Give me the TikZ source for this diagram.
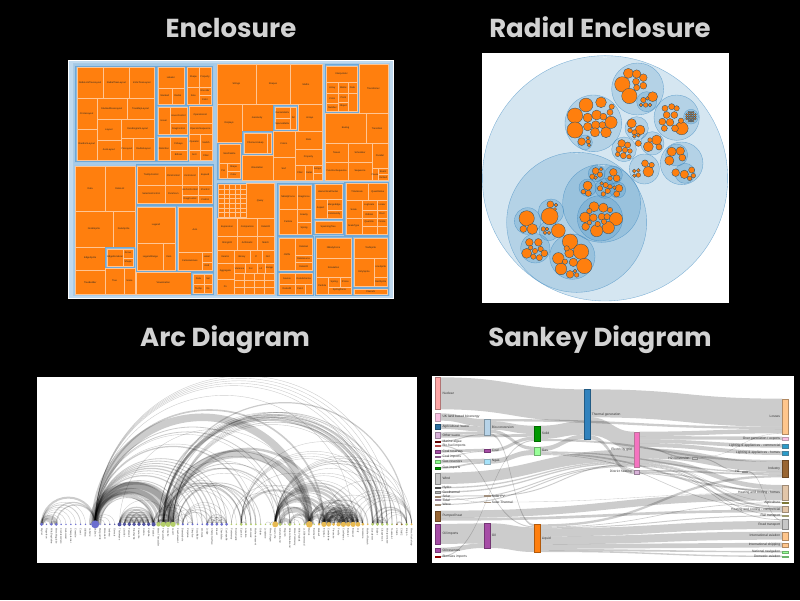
\documentclass[tikz,border=0pt]{standalone}
\usepackage{fontspec}
\setmainfont{Liberation Sans}
\newfontfamily\titlefont{Poppins}
\definecolor{tmbg}{HTML}{BFD9EE}
\definecolor{tmgA}{HTML}{A3C9E7}
\definecolor{tmgB}{HTML}{8ABBE0}
\definecolor{tmline}{HTML}{6FA8D6}
\definecolor{orng}{HTML}{FF7F0E}
\definecolor{cpb}{HTML}{3182BD}
\definecolor{ttl}{HTML}{D2D2D2}
\definecolor{ga}{HTML}{9C9EDE}
\definecolor{gb}{HTML}{6B6ECF}
\definecolor{gc}{HTML}{5254A3}
\definecolor{gd}{HTML}{B5CF6B}
\definecolor{gh}{HTML}{E7BA52}
\definecolor{gj}{HTML}{8C6D31}
\tikzset{
  leaf/.style={fill=orng, draw=white!55!orng, line width=0.3pt},
  grpA/.style={fill=tmgA, draw=tmline!60, line width=0.4pt},
  grpB/.style={fill=tmgB, draw=tmline, line width=0.4pt},
  tml/.style={font=\fontsize{2.4}{3}\selectfont, text=black!85, inner sep=0},
  cgrp/.style={fill=cpb, fill opacity=0.2, draw=cpb, draw opacity=0.6, line width=0.35pt},
  cleaf/.style={fill=orng, draw=cpb!60!black, line width=0.3pt},
  clab/.style={font=\fontsize{2.2}{3}\selectfont, text=white, inner sep=0},
  arcln/.style={draw=black, draw opacity=0.2},
  alab/.style={font=\fontsize{2.4}{3}\selectfont, text=black!75, inner sep=0},
  slink/.style={fill=black, fill opacity=0.2},
  slab/.style={font=\fontsize{3.3}{4}\selectfont, text=black!80, inner sep=0},
  ttlstyle/.style={font=\titlefont\fontsize{26}{30}\selectfont\bfseries, text=ttl, inner sep=0, anchor=base}
}
\newcommand\lf[5]{\draw[leaf] (#1,#2) rectangle (#3,#4); \node[tml] at ({(#1+#3)/2},{(#2+#4)/2}) {#5};}
\newcommand\gpa[4]{\filldraw[grpA] (#1,#2) rectangle (#3,#4);}
\newcommand\gpb[4]{\filldraw[grpB] (#1,#2) rectangle (#3,#4);}
\newcommand\gcir[3]{\filldraw[cgrp] (#1,#2) circle[radius=#3];}
\newcommand\ocir[3]{\filldraw[cleaf] (#1,#2) circle[radius=1.15*#3];}
\newcommand\lnk[6]{\pgfmathsetmacro\lm{(#1+#4)/2}\fill[slink] (#1,#2) .. controls (\lm,#2) and (\lm,#5) .. (#4,#5) -- (#4,#6) .. controls (\lm,#6) and (\lm,#3) .. (#1,#3) -- cycle;}
\newcommand\snr[5]{\colorlet{snc}{#4}\filldraw[fill=snc, draw=snc!70!black, line width=0.3pt] (#1,#2) rectangle ({#1+16},#3); \node[slab, anchor=west] at ({#1+22},{(#2+#3)/2}) {#5};}
\newcommand\snl[5]{\colorlet{snc}{#4}\filldraw[fill=snc, draw=snc!70!black, line width=0.3pt] (#1,#2) rectangle ({#1+16},#3); \node[slab, anchor=east] at ({#1-6},{(#2+#3)/2}) {#5};}
\begin{document}
\begin{tikzpicture}[x=1pt,y=-1pt]
\fill[black] (0,0) rectangle (800,600);
\useasboundingbox (0,0) rectangle (800,600);
% titles
\node[ttlstyle] (t1) at (231,37) {Enclosure};
\node[ttlstyle] (t2) at (600,37) {Radial Enclosure};
\node[ttlstyle] (t3) at (225,346) {Arc Diagram};
\node[ttlstyle] (t4) at (600,346) {Sankey Diagram};
% ================= TREEMAP =================
\begin{scope}[shift={(60,55)},scale=1/3]
\filldraw[fill=tmbg,draw=white,line width=0.8pt] (25,15) rectangle (1000,730);
\gpa{40}{25}{462}{325}
\gpa{40}{328}{462}{722}
\gpa{466}{25}{988}{378}
\gpa{466}{381}{988}{722}
% top-left
\gpb{46}{33}{287}{318}
\lf{50}{37}{130}{130}{NodeLinkTreeLayout}
\lf{130}{37}{208}{130}{RadialTreeLayout}
\lf{208}{37}{283}{130}{IcicleTreeLayout}
\lf{50}{130}{110}{222}{CircleLayout}
\lf{50}{222}{110}{314}{RandomLayout}
\lf{110}{130}{200}{192}{StackedAreaLayout}
\lf{200}{130}{283}{192}{TreeMapLayout}
\lf{110}{192}{183}{255}{Layout}
\lf{183}{192}{283}{250}{DendrogramLayout}
\lf{110}{255}{183}{314}{AxisLayout}
\lf{183}{250}{218}{314}{PieLayout}
\lf{218}{250}{283}{314}{RadialLayout}
\gpb{289}{33}{376}{150}
\lf{293}{37}{372}{100}{Labeler}
\lf{293}{100}{335}{146}{Stacked}
\lf{335}{100}{372}{146}{Radial}
\gpb{378}{33}{456}{150}
\lf{382}{37}{418}{95}{Shape}
\lf{418}{37}{452}{95}{Property}
\lf{382}{95}{418}{146}{Size}
\lf{418}{95}{452}{120}{Encoder}
\lf{418}{120}{452}{146}{Color}
\gpb{289}{152}{385}{240}
\lf{293}{156}{330}{236}{Hover}
\lf{330}{156}{381}{205}{HoverControl}
\lf{330}{205}{381}{236}{DragControl}
\lf{386}{152}{456}{205}{OperatorList}
\lf{386}{205}{456}{238}{OperatorSequence}
\lf{386}{238}{420}{285}{Operator}
\lf{420}{238}{456}{285}{Switch}
\lf{386}{285}{420}{316}{Sort}
\lf{420}{285}{456}{316}{Filter}
\gpb{289}{242}{385}{318}
\lf{293}{246}{330}{314}{Distortion}
\lf{330}{246}{381}{285}{Fisheye}
\lf{330}{285}{381}{314}{Bifocal}
% bottom-left
\lf{46}{332}{135}{468}{Data}
\lf{135}{332}{224}{468}{DataList}
\lf{46}{468}{158}{575}{NodeSprite}
\lf{158}{468}{224}{575}{DataSprite}
\lf{46}{575}{135}{645}{EdgeSprite}
\lf{46}{645}{135}{718}{TreeBuilder}
\lf{135}{638}{192}{718}{Tree}
\lf{192}{638}{224}{718}{Scale}
\gpb{137}{577}{222}{636}
\lf{141}{581}{190}{632}{EdgeRenderer}
\lf{190}{581}{218}{608}{Arrow}
\lf{190}{608}{218}{632}{Shape}
\gpb{228}{329}{460}{449}
\lf{232}{333}{315}{389}{TooltipControl}
\lf{315}{333}{365}{389}{ClickControl}
\lf{365}{333}{415}{389}{ControlList}
\lf{415}{333}{456}{389}{Expand}
\lf{232}{389}{315}{445}{SelectionControl}
\lf{315}{389}{365}{445}{PanZoom}
\lf{365}{389}{415}{420}{AnchorControl}
\lf{415}{389}{456}{420}{IControl}
\lf{365}{420}{415}{445}{DragControl}
\lf{415}{420}{456}{445}{Control}
\gpb{228}{452}{348}{648}
\lf{232}{456}{344}{565}{Legend}
\lf{232}{565}{310}{644}{LegendRange}
\lf{310}{565}{344}{644}{Item}
\gpb{350}{452}{460}{648}
\lf{354}{456}{456}{592}{Axis}
\lf{354}{592}{425}{644}{CartesianAxes}
\lf{425}{592}{456}{620}{Label}
\lf{425}{620}{456}{644}{Grid}
\lf{228}{650}{392}{718}{Visualization}
\gpb{395}{652}{460}{719}
\lf{399}{656}{432}{688}{Data}
\lf{432}{656}{456}{688}{Sel}
\lf{399}{688}{432}{715}{Tooltip}
\lf{432}{688}{456}{715}{Vis}
% top-right
\lf{470}{28}{588}{148}{Strings}
\lf{588}{28}{690}{148}{Shapes}
\lf{690}{28}{786}{148}{Maths}
\lf{470}{148}{545}{262}{Displays}
\lf{545}{148}{638}{228}{Geometry}
\gpb{640}{151}{713}{226}
\lf{644}{155}{690}{190}{DenseMatrix}
\lf{644}{190}{690}{222}{SparseMatrix}
\lf{690}{155}{709}{222}{IM}
\lf{713}{148}{786}{228}{Arrays}
\gpb{547}{229}{636}{299}
\lf{551}{233}{622}{295}{FibonacciHeap}
\lf{622}{233}{632}{295}{}
\lf{638}{228}{705}{305}{Colors}
\lf{705}{228}{786}{282}{Stats}
\lf{705}{282}{786}{330}{Property}
\lf{545}{300}{638}{376}{Orientation}
\lf{638}{305}{705}{376}{Sort}
\lf{705}{330}{735}{376}{Filter}
\lf{735}{330}{760}{376}{Dates}
\lf{760}{330}{786}{355}{Arrays}
\lf{760}{355}{786}{376}{}
\gpb{473}{264}{543}{374}
\lf{477}{268}{539}{325}{SizePalette}
\lf{477}{325}{502}{370}{Pal}
\lf{502}{325}{539}{348}{Shape}
\lf{502}{348}{539}{370}{Color}
\gpb{795}{28}{894}{172}
\lf{799}{32}{890}{82}{Interpolator}
\lf{799}{82}{835}{115}{Array}
\lf{835}{82}{865}{115}{Matrix}
\lf{865}{82}{890}{115}{Date}
\lf{799}{115}{835}{145}{Color}
\lf{835}{115}{865}{140}{Point}
\lf{865}{115}{890}{168}{}
\lf{799}{145}{835}{168}{Number}
\lf{835}{140}{865}{168}{Object}
\lf{896}{28}{984}{175}{Transitioner}
\lf{795}{175}{918}{265}{Easing}
\lf{918}{175}{984}{265}{Transition}
\lf{795}{265}{865}{322}{Tween}
\lf{865}{265}{935}{322}{Scheduler}
\lf{935}{265}{984}{340}{Parallel}
\lf{795}{322}{865}{376}{FunctionSequence}
\lf{865}{322}{935}{376}{Sequence}
\lf{935}{340}{955}{376}{Pause}
\lf{955}{340}{984}{358}{Event}
\lf{955}{358}{984}{376}{ISched}
% bottom-right
\gpb{471}{384}{559}{489}
\foreach \i in {0,...,4}{\foreach \j in {0,...,6}{\draw[leaf] ({475+16.4*\i},{388+14*\j}) rectangle ({475+16.4*(\i+1)},{388+14*(\j+1)});}}
\lf{559}{385}{642}{488}{Query}
\lf{470}{490}{532}{542}{Expression}
\lf{532}{490}{592}{542}{Comparison}
\lf{592}{490}{642}{542}{DateUtil}
\lf{470}{542}{532}{585}{StringUtil}
\lf{532}{542}{592}{585}{Arithmetic}
\lf{592}{542}{642}{585}{Match}
\lf{470}{585}{522}{625}{Iterator}
\lf{522}{585}{570}{625}{Binary}
\lf{570}{585}{605}{625}{If}
\lf{605}{585}{642}{625}{Not}
\lf{470}{625}{522}{672}{Aggregate}
\lf{522}{625}{555}{655}{Variance}
\lf{555}{625}{590}{655}{Xor}
\lf{590}{625}{615}{655}{Lit}
\lf{615}{625}{642}{655}{Range}
\lf{470}{672}{522}{718}{Fn}
\foreach \i in {0,...,3}{\foreach \j in {0,...,2}{\draw[leaf] ({522+30*\i},{655+21*\j}) rectangle ({522+30*(\i+1)},{655+21*(\j+1)});}}
\gpb{652}{384}{756}{540}
\lf{657}{389}{712}{462}{NBodyForce}
\lf{712}{389}{752}{462}{DragForce}
\lf{657}{462}{712}{536}{Particle}
\lf{712}{462}{752}{500}{Gravity}
\lf{712}{500}{752}{536}{Spring}
\gpb{760}{384}{849}{492}
\lf{764}{388}{845}{432}{HierarchicalCluster}
\lf{764}{432}{800}{488}{Aspect}
\lf{800}{432}{845}{465}{MergeEdge}
\lf{800}{465}{845}{488}{Community}
\gpb{760}{493}{849}{537}
\lf{764}{497}{845}{533}{SpanningTree}
\gpb{853}{381}{986}{540}
\lf{857}{385}{925}{435}{TimeScale}
\lf{925}{385}{982}{435}{Quantitative}
\lf{857}{435}{905}{490}{Scale}
\lf{905}{435}{950}{465}{LogScale}
\lf{950}{435}{982}{465}{Linear}
\lf{905}{465}{950}{490}{Ordinal}
\lf{950}{465}{982}{490}{Root}
\lf{857}{490}{905}{536}{ScaleType}
\lf{905}{490}{950}{512}{Quantile}
\lf{950}{490}{982}{512}{IScale}
\lf{905}{512}{950}{536}{}
\lf{950}{512}{982}{536}{}
\gpb{652}{545}{761}{650}
\lf{657}{550}{705}{646}{JSON}
\lf{705}{550}{757}{600}{DataSet}
\lf{705}{600}{757}{622}{DataSource}
\lf{705}{622}{757}{646}{DataUtil}
\gpb{652}{651}{761}{720}
\lf{657}{655}{705}{686}{Source}
\lf{705}{655}{757}{686}{DataSchema}
\lf{657}{686}{705}{716}{DataUtil}
\lf{705}{686}{735}{716}{Field}
\lf{735}{686}{757}{716}{}
\gpb{765}{545}{876}{720}
\lf{769}{549}{872}{608}{NBodyForce}
\lf{769}{608}{872}{665}{Simulation}
\lf{769}{665}{805}{716}{Particle}
\lf{805}{665}{840}{695}{Spring}
\lf{840}{665}{872}{695}{IForce}
\lf{805}{695}{872}{716}{SpringForce}
\gpb{878}{545}{986}{698}
\lf{882}{549}{982}{608}{TextSprite}
\lf{882}{608}{942}{694}{DirtySprite}
\lf{942}{608}{982}{665}{LineSprite}
\lf{942}{665}{982}{694}{RectSprite}
\gpb{878}{700}{986}{720}
\lf{882}{703}{982}{717}{FlareVis}
\end{scope}
% ================= CIRCLE PACKING =================
\begin{scope}[shift={(475,45)},scale=1/3]
\fill[white] (20,25) rectangle (762,775);
\gcir{390}{400}{368}
\gcir{305}{532}{210}
\gcir{355}{235}{85}
\gcir{488}{132}{78}
\gcir{605}{218}{68}
\gcir{620}{355}{64}
\gcir{485}{250}{35}
\gcir{532}{295}{35}
\gcir{447}{313}{37}
\gcir{508}{372}{45}
\gcir{330}{292}{22}
\gcir{515}{170}{30}
\gcir{648}{215}{22}
\gcir{605}{330}{33}
\gcir{630}{385}{30}
\gcir{380}{475}{117}
\gcir{158}{528}{40}
\gcir{228}{500}{38}
\gcir{222}{557}{30}
\gcir{181}{610}{44}
\gcir{292}{635}{68}
\gcir{365}{385}{25}
\gcir{415}{390}{27}
\gcir{338}{428}{26}
\gcir{390}{430}{30}
\gcir{428}{435}{24}
\gcir{375}{520}{68}
% leaves
\ocir{300}{212}{20}\ocir{300}{255}{21}\ocir{333}{180}{18}\ocir{378}{172}{14}\ocir{365}{210}{13}
\ocir{338}{218}{12}\ocir{362}{240}{11}\ocir{338}{245}{11}\ocir{360}{262}{12}\ocir{393}{262}{14}
\ocir{408}{232}{16}\ocir{385}{215}{9}\ocir{405}{202}{8}\ocir{410}{185}{7}\ocir{382}{240}{9}
\ocir{320}{290}{10}\ocir{340}{290}{6}\ocir{342}{301}{5}\ocir{338}{279}{5}
\ocir{442}{118}{20}\ocir{463}{153}{20}\ocir{460}{85}{13}\ocir{485}{87}{11}\ocir{505}{98}{10}
\ocir{483}{110}{9}\ocir{485}{128}{8}\ocir{505}{122}{9}
\ocir{533}{155}{13}\ocir{505}{165}{7}\ocir{512}{180}{6}\ocir{525}{180}{5}\ocir{498}{180}{5}\ocir{517}{160}{5}
\ocir{620}{250}{17}\ocir{570}{190}{8}\ocir{590}{185}{8}\ocir{605}{190}{7}\ocir{575}{210}{9}
\ocir{598}{210}{9}\ocir{562}{230}{9}\ocir{585}{232}{10}\ocir{600}{250}{9}\ocir{568}{250}{8}\ocir{618}{227}{7}
\foreach \i in {-2,...,2}{\foreach \j in {-2,...,2}{\pgfmathtruncatemacro\ok{(\i*\i+\j*\j)<=6}\ifnum\ok=1 \ocir{648+6.5*\i}{215+6.5*\j}{2.8}\fi}}
\ocir{590}{320}{12}\ocir{616}{318}{11}\ocir{583}{347}{12}\ocir{622}{338}{9}
\ocir{628}{388}{11}\ocir{602}{383}{10}\ocir{650}{375}{8}\ocir{655}{392}{6}\ocir{644}{400}{6}
\ocir{470}{235}{12}\ocir{495}{255}{13}\ocir{478}{262}{7}\ocir{465}{256}{6}\ocir{478}{274}{5}\ocir{490}{271}{5}
\ocir{520}{305}{13}\ocir{545}{285}{13}\ocir{552}{306}{8}\ocir{525}{285}{6}
\ocir{440}{295}{10}\ocir{458}{300}{8}\ocir{432}{313}{8}\ocir{450}{315}{7}\ocir{465}{318}{6}
\ocir{428}{328}{6}\ocir{445}{332}{8}\ocir{462}{335}{6}\ocir{490}{295}{8}
\ocir{520}{380}{14}\ocir{510}{355}{9}\ocir{530}{360}{7}\ocir{490}{390}{6}\ocir{478}{378}{5}\ocir{490}{376}{5}\ocir{478}{392}{5}
\ocir{362}{378}{9}\ocir{375}{389}{7}\ocir{352}{395}{7}\ocir{362}{398}{5}\ocir{378}{373}{5}
\ocir{415}{382}{10}\ocir{425}{400}{9}\ocir{405}{400}{6}
\ocir{338}{422}{12}\ocir{340}{445}{8}\ocir{325}{440}{6}
\ocir{392}{420}{7}\ocir{375}{430}{7}\ocir{398}{438}{7}\ocir{385}{447}{6}\ocir{405}{425}{6}\ocir{380}{415}{5}
\ocir{432}{430}{10}\ocir{425}{447}{8}\ocir{418}{428}{5}
\ocir{423}{522}{17}\ocir{400}{548}{16}\ocir{330}{517}{14}\ocir{365}{557}{16}\ocir{357}{485}{13}
\ocir{385}{488}{12}\ocir{332}{545}{10}\ocir{355}{518}{10}\ocir{380}{515}{9}\ocir{396}{515}{8}
\ocir{405}{495}{7}\ocir{368}{537}{7}\ocir{387}{530}{7}\ocir{343}{498}{7}\ocir{343}{533}{6}
\ocir{155}{520}{20}\ocir{172}{552}{14}\ocir{145}{552}{9}
\ocir{224}{514}{22}\ocir{226}{478}{9}\ocir{243}{480}{5}\ocir{240}{492}{4}
\ocir{250}{557}{18}\ocir{205}{552}{6}\ocir{216}{552}{5}\ocir{222}{563}{5}\ocir{210}{563}{5}
\ocir{190}{592}{10}\ocir{163}{592}{10}\ocir{155}{625}{13}\ocir{180}{618}{7}\ocir{197}{612}{7}
\ocir{208}{625}{9}\ocir{175}{635}{7}\ocir{193}{638}{8}\ocir{167}{608}{6}
\ocir{285}{590}{20}\ocir{318}{620}{20}\ocir{328}{663}{20}\ocir{250}{640}{15}\ocir{283}{625}{12}
\ocir{258}{672}{15}\ocir{295}{652}{11}\ocir{270}{650}{7}\ocir{275}{610}{7}\ocir{285}{688}{10}\ocir{305}{690}{6}\ocir{300}{678}{5}
\node[clab] (cl1) at (390,38) {flare};
\node[clab] (cl2) at (305,327) {vis};
\node[clab] (cl3) at (380,362) {display};
\end{scope}
% ================= ARC DIAGRAM =================
\begin{scope}[shift={(30,370)},scale=1/3]
\fill[white] (22,22) rectangle (1160,578);
\foreach \a/\b/\v in {1/0/1, 2/0/8, 3/0/10, 3/2/6, 4/0/1, 5/0/1, 6/0/1, 7/0/1, 8/0/2, 9/0/1, 11/10/1, 11/3/3, 11/2/3, 11/0/5, 12/11/1, 13/11/1, 14/11/1, 15/11/1, 17/16/4, 18/16/4, 18/17/4, 19/16/4, 19/17/4, 19/18/4, 20/16/3, 20/17/3, 20/18/3, 20/19/4, 21/16/3, 21/17/3, 21/18/3, 21/19/3, 21/20/5, 22/16/3, 22/17/3, 22/18/3, 22/19/3, 22/20/4, 22/21/4, 23/16/3, 23/17/3, 23/18/3, 23/19/3, 23/20/4, 23/21/4, 23/22/4, 23/12/2, 23/11/9, 24/23/2, 24/11/7, 25/24/13, 25/23/1, 25/11/12, 26/24/4, 26/11/31, 26/16/1, 26/25/1, 27/11/17, 27/23/5, 27/25/5, 27/24/1, 27/26/1, 28/11/8, 28/27/1, 29/23/1, 29/27/1, 29/11/2, 30/23/1, 31/30/2, 31/11/3, 31/23/2, 31/27/1, 32/11/1, 33/11/2, 33/27/1, 34/11/3, 34/29/2, 35/11/3, 35/34/3, 35/29/2, 36/34/2, 36/35/2, 36/11/2, 36/29/1, 37/34/2, 37/35/2, 37/36/2, 37/11/2, 37/29/1, 38/34/2, 38/35/2, 38/36/2, 38/37/2, 38/11/2, 38/29/1, 39/25/1, 40/25/1, 41/24/2, 41/25/3, 42/41/2, 42/25/2, 42/24/1, 43/11/3, 43/26/1, 43/27/1, 44/28/3, 44/11/1, 45/28/2, 47/46/1, 48/47/2, 48/25/1, 48/27/1, 48/11/1, 49/26/3, 49/11/2, 50/49/1, 50/24/1, 51/49/9, 51/26/2, 51/11/2, 52/51/1, 52/39/1, 53/51/1, 54/51/2, 54/49/1, 54/26/1, 55/51/6, 55/49/12, 55/39/1, 55/54/1, 55/26/21, 55/11/19, 55/16/1, 55/25/2, 55/41/5, 55/48/4, 56/49/1, 56/55/1, 57/55/1, 57/41/1, 57/48/1, 58/55/7, 58/48/7, 58/27/6, 58/57/1, 58/11/4, 59/58/15, 59/55/5, 59/48/6, 59/57/2, 60/48/1, 60/58/4, 60/59/2, 61/48/2, 61/58/6, 61/60/2, 61/59/5, 61/57/1, 61/55/1, 62/55/9, 62/58/17, 62/59/13, 62/48/7, 62/57/2, 62/41/1, 62/61/6, 62/60/3, 63/59/5, 63/48/5, 63/62/6, 63/57/2, 63/58/4, 63/61/3, 63/60/2, 63/55/1, 64/55/5, 64/62/12, 64/48/5, 64/63/4, 64/58/10, 64/61/6, 64/60/2, 64/59/9, 64/57/1, 64/11/1, 65/63/5, 65/64/7, 65/48/3, 65/62/5, 65/58/5, 65/61/5, 65/60/2, 65/59/5, 65/57/1, 65/55/2, 66/64/3, 66/58/3, 66/59/1, 66/62/2, 66/65/2, 66/48/1, 66/63/1, 66/61/1, 66/60/1, 67/57/3, 68/25/5, 68/11/1, 68/24/1, 68/27/1, 68/48/1, 68/41/1, 69/25/6, 69/68/6, 69/11/1, 69/24/1, 69/27/2, 69/48/1, 69/41/1, 70/25/4, 70/69/4, 70/68/4, 70/11/1, 70/24/1, 70/27/1, 70/41/1, 70/58/1, 71/27/1, 71/69/2, 71/68/2, 71/70/2, 71/11/1, 71/48/1, 71/41/1, 71/25/1, 72/26/2, 72/27/1, 72/11/1, 73/48/2, 74/48/2, 74/73/3, 75/69/3, 75/68/3, 75/25/3, 75/48/1, 75/41/1, 75/70/1, 75/71/1, 76/64/1, 76/65/1, 76/66/1, 76/63/1, 76/62/1, 76/48/1, 76/58/1}{
  \pgfmathsetmacro\xa{35+14.6*\b}
  \pgfmathsetmacro\rr{7.3*(\a-\b)}
  \draw[arcln, line width=0.4*\v pt] (\xa,463) arc[start angle=180, end angle=360, radius=\rr];
}
\foreach \nm/\g/\r [count=\i from 0] in {Myriel/gb/1.7, Napoleon/gb/0.8, Mlle.Baptistine/gb/1.4, Mme.Magloire/gb/1.5, CountessdeLo/gb/0.8, Geborand/gb/0.8, Champtercier/gb/0.8, Cravatte/gb/0.8, Count/gb/0.8, OldMan/gb/0.8, Labarre/gc/0.8, Valjean/gb/4, Marguerite/ga/1.0, Mme.deR/gc/0.8, Isabeau/gc/0.8, Gervais/gc/0.8, Tholomyes/gc/2.0, Listolier/gc/1.9, Fameuil/gc/1.9, Blacheville/gc/1.9, Favourite/gc/1.9, Dahlia/gc/1.9, Zephine/gc/1.9, Fantine/gc/2.1, Mme.Thenardier/gd/2.2, Thenardier/gd/2.6, Cosette/gd/2.6, Javert/gd/2.6, Fauchelevent/gd/1.3, Bamatabois/gb/1.2, Perpetue/gb/0.8, Simplice/gb/1.1, Scaufflaire/gb/0.8, Woman1/gb/0.9, Judge/gb/1.5, Champmathieu/gb/1.5, Brevet/gb/1.5, Chenildieu/gb/1.5, Cochepaille/gb/1.5, Pontmercy/gd/0.9, Boulatruelle/gd/0.8, Eponine/gd/1.5, Anzelma/gd/1.1, Woman2/gd/1.0, MotherInnocent/gd/1.0, Gribier/gd/0.8, Jondrette/gd/0.8, Mme.Burgon/gd/0.9, Gavroche/gh/3.0, Gillenormand/gd/1.7, Magnon/gd/0.8, Mlle.Gillenormand/gd/1.7, Mme.Pontmercy/gd/0.8, Mlle.Vaubois/gd/0.8, Lt.Gillenormand/gd/1.0, Marius/gh/3.3, BaronessT/gd/0.8, Mabeuf/gh/1.3, Enjolras/gh/2.6, Combeferre/gh/2.3, Prouvaire/gh/1.6, Feuilly/gh/2.1, Courfeyrac/gh/2.6, Bahorel/gh/2.3, Bossuet/gh/2.6, Joly/gh/2.3, Grantaire/gh/1.5, MotherPlutarch/gh/0.9, Gueulemer/gd/1.5, Babet/gd/1.6, Claquesous/gd/1.5, Montparnasse/gd/1.3, Toussaint/gd/1.0, Child1/gj/0.9, Child2/gj/1.0, Brujon/gd/1.4, Mme.Hucheloup/gh/1.1}{
  \pgfmathsetmacro\xx{35+14.6*\i}
  \fill[\g] (\xx,463) circle[radius=3*\r];
  \node[alab, rotate=-90, anchor=west] (an\i) at (\xx,475) {\nm};
}
\end{scope}
% ================= SANKEY =================
\begin{scope}[shift={(425,370)},scale=1/3]
\fill[white] (22,18) rectangle (1108,580);
\lnk{46}{22}{118}{478}{58}{154}
\lnk{46}{130}{152}{178}{147}{169}
\lnk{46}{162}{177}{178}{169}{184}
\lnk{46}{187}{195}{178}{184}{192}
\lnk{46}{195}{203}{328}{192}{200}
\lnk{46}{212}{215}{178}{192}{195}
\lnk{46}{226}{229}{328}{469}{472}
\lnk{46}{240}{248}{178}{236}{244}
\lnk{46}{258}{260}{178}{244}{246}
\lnk{46}{270}{280}{178}{266}{276}
\lnk{46}{291}{296}{178}{276}{281}
\lnk{46}{308}{342}{627}{239}{273}
\lnk{46}{351}{355}{627}{273}{277}
\lnk{46}{364}{368}{627}{277}{281}
\lnk{46}{377}{380}{178}{376}{379}
\lnk{46}{380}{381}{178}{396}{397}
\lnk{46}{388}{391}{627}{284}{287}
\lnk{46}{402}{405}{627}{287}{290}
\lnk{46}{422}{444}{1072}{369}{391}
\lnk{46}{444}{452}{1072}{419}{427}
\lnk{46}{462}{522}{178}{460}{520}
\lnk{46}{533}{547}{178}{520}{534}
\lnk{46}{558}{561}{328}{210}{213}
\lnk{194}{147}{154}{1072}{170}{177}
\lnk{194}{154}{179}{328}{167}{192}
\lnk{194}{179}{189}{328}{230}{240}
\lnk{194}{189}{195}{328}{463}{469}
\lnk{194}{236}{246}{328}{200}{210}
\lnk{194}{266}{281}{328}{240}{255}
\lnk{194}{376}{379}{627}{281}{284}
\lnk{194}{396}{397}{1072}{368}{369}
\lnk{194}{460}{534}{328}{472}{546}
\lnk{344}{167}{207}{478}{154}{194}
\lnk{344}{207}{213}{1072}{270}{276}
\lnk{344}{230}{244}{478}{194}{208}
\lnk{344}{244}{248}{1072}{306}{310}
\lnk{344}{248}{253}{1072}{359}{364}
\lnk{344}{253}{255}{1072}{414}{416}
\lnk{344}{463}{470}{1072}{315}{322}
\lnk{344}{470}{472}{1072}{397}{399}
\lnk{344}{472}{475}{1072}{436}{439}
\lnk{344}{475}{499}{1072}{453}{477}
\lnk{344}{499}{523}{1072}{485}{509}
\lnk{344}{523}{537}{1072}{518}{532}
\lnk{344}{537}{542}{1072}{543}{548}
\lnk{344}{542}{546}{1072}{557}{561}
\lnk{494}{58}{142}{1072}{86}{170}
\lnk{494}{142}{196}{627}{185}{239}
\lnk{494}{196}{208}{627}{300}{312}
\lnk{643}{185}{198}{1072}{177}{190}
\lnk{643}{198}{208}{1072}{200}{210}
\lnk{643}{208}{219}{1072}{222}{233}
\lnk{643}{219}{231}{1072}{243}{255}
\lnk{643}{231}{235}{800}{262}{266}
\lnk{643}{235}{265}{1072}{276}{306}
\lnk{643}{265}{279}{1072}{345}{359}
\lnk{643}{279}{280}{1072}{396}{397}
\lnk{643}{280}{286}{1072}{408}{414}
\lnk{643}{286}{288}{1072}{434}{436}
\lnk{643}{288}{290}{1072}{448}{450}
\lnk{643}{300}{305}{1072}{310}{315}
\lnk{643}{305}{309}{1072}{364}{368}
\lnk{643}{309}{312}{1072}{416}{419}
\lnk{816}{262}{263}{1072}{190}{191}
\lnk{816}{263}{266}{950}{303}{306}
\lnk{966}{303}{306}{1072}{450}{453}
% nodes col0
\snr{30}{22}{118}{red!35}{Nuclear}
\snr{30}{130}{152}{magenta!25}{UK land based bioenergy}
\snr{30}{162}{177}{cpb!85!black}{Agricultural 'waste'}
\snr{30}{187}{203}{violet!30}{Other waste}
\snr{30}{212}{215}{red!55!black}{Marine algae}
\snr{30}{226}{229}{red!60}{Bio-fuel imports}
\snr{30}{240}{248}{violet!70}{Coal reserves}
\snr{30}{258}{260}{violet!50}{Coal imports}
\snr{30}{270}{280}{green!45}{Gas reserves}
\snr{30}{291}{296}{green!60!black}{Gas imports}
\snr{30}{308}{342}{black!22}{Wind}
\snr{30}{351}{355}{black!55}{Hydro}
\snr{30}{364}{368}{black!30}{Geothermal}
\snr{30}{377}{381}{brown!50}{Solar}
\snr{30}{388}{391}{violet!25}{Tidal}
\snr{30}{402}{405}{brown!45}{Wave}
\snr{30}{422}{452}{brown!80!black}{Pumped heat}
\snr{30}{462}{522}{violet!70}{Oil imports}
\snr{30}{533}{547}{violet!70}{Oil reserves}
\snr{30}{558}{561}{red!80!black}{Biomass imports}
% col1
\snr{178}{147}{195}{cpb!35}{Bio-conversion}
\snr{178}{236}{246}{violet!70}{Coal}
\snr{178}{266}{281}{cyan!35}{Ngas}
\snr{178}{376}{379}{brown!40}{Solar PV}
\snr{178}{396}{397}{brown!40}{Solar Thermal}
\snr{178}{460}{534}{violet!70}{Oil}
% col2
\snr{328}{167}{213}{green!60!black}{Solid}
\snr{328}{230}{255}{green!40}{Gas}
\snr{328}{463}{546}{orng}{Liquid}
% col3
\snr{478}{58}{208}{cpb}{Thermal generation}
% col4
\snl{627}{185}{290}{magenta!55}{Electricity grid}
\snl{627}{300}{312}{violet!30}{District heating}
\snl{800}{262}{266}{black!20}{H2 conversion}
\snl{950}{303}{306}{black!20}{H2}
% last column
\snl{1072}{86}{191}{orange!45}{Losses}
\snl{1072}{200}{210}{magenta!25}{Over generation / exports}
\snl{1072}{222}{233}{cyan!80!black}{Lighting \& appliances - commercial}
\snl{1072}{243}{255}{cyan!80!black}{Lighting \& appliances - homes}
\snl{1072}{270}{322}{brown!80!black}{Industry}
\snl{1072}{345}{391}{brown!45}{Heating and cooling - homes}
\snl{1072}{396}{399}{olive!80}{Agriculture}
\snl{1072}{408}{427}{brown!45}{Heating and cooling - commercial}
\snl{1072}{434}{439}{olive!40}{Rail transport}
\snl{1072}{448}{477}{black!22}{Road transport}
\snl{1072}{485}{509}{orange!45}{International aviation}
\snl{1072}{518}{532}{orange!45}{International shipping}
\snl{1072}{543}{548}{green!40}{National navigation}
\snl{1072}{557}{561}{green!40}{Domestic aviation}
\end{scope}
\end{tikzpicture}
\end{document}
